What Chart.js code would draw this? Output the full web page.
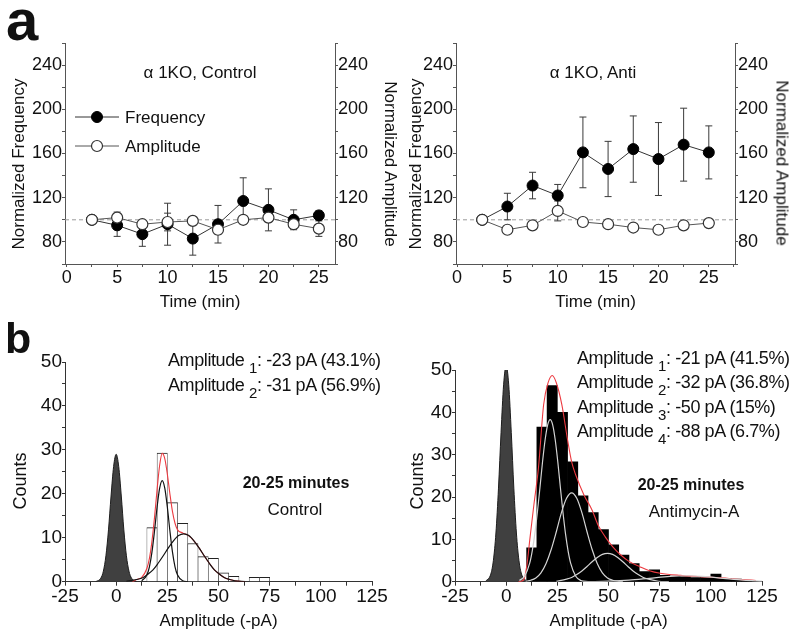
<!DOCTYPE html>
<html>
<head>
<meta charset="utf-8">
<title>a1KO frequency / amplitude</title>
<script src="https://cdn.jsdelivr.net/npm/chart.js@4.4.1/dist/chart.umd.min.js"></script>
<style>
  html, body { margin: 0; padding: 0; background: #fff; }
  #page { position: relative; width: 800px; height: 643px; overflow: hidden;
          font-family: Arial, "Liberation Sans", sans-serif; color: #111; }
  canvas { position: absolute; }
  .txt { position: absolute; white-space: nowrap; line-height: 1; }
  .mid { transform: translate(-50%, -50%); }
  .vmid { transform: translateY(-50%); }
  .up { transform: translate(-50%, -50%) rotate(-90deg); }
  .down { transform: translate(-50%, -50%) rotate(90deg); }
  .amp { font-size: 18px; letter-spacing: -0.4px; }
  .amp .s { font-size: 15px; position: relative; top: 7px; line-height: 0; }
</style>
</head>
<body>
<div id="page">
  <canvas id="aCtrl" width="400" height="320" style="left:0;top:0"></canvas>
  <canvas id="aAnti" width="400" height="320" style="left:400px;top:0"></canvas>
  <canvas id="bCtrl" width="400" height="323" style="left:0;top:320px"></canvas>
  <canvas id="bAnti" width="400" height="323" style="left:400px;top:320px"></canvas>

  <div class="txt" style="left:6px;top:-9px;font-weight:bold;font-size:58px">a</div>
  <div class="txt" style="left:5px;top:317px;font-weight:bold;font-size:43px">b</div>

  <div class="txt up" style="left:18px;top:164px;font-size:17px">Normalized Frequency</div>
  <div class="txt down" style="left:390px;top:164px;font-size:17px">Normalized Amplitude</div>
  <div class="txt up" style="left:415px;top:164px;font-size:17px">Normalized Frequency</div>
  <div class="txt down" style="left:782px;top:163px;font-size:17px">Normalized Amplitude</div>
  <div class="txt up" style="left:20px;top:481px;font-size:18px">Counts</div>
  <div class="txt up" style="left:417px;top:481px;font-size:18px">Counts</div>

  <div class="txt mid" style="left:200px;top:72px;font-size:17px">α 1KO, Control</div>
  <div class="txt mid" style="left:593px;top:72px;font-size:17px">α 1KO, Anti</div>
  <div class="txt vmid" style="left:125px;top:117px;font-size:17px">Frequency</div>
  <div class="txt vmid" style="left:125px;top:146px;font-size:17px">Amplitude</div>

  <div class="txt amp" style="left:168px;top:347.5px;line-height:25px">
    Amplitude <span class="s">1</span>: -23 pA (43.1%)<br>
    Amplitude <span class="s">2</span>: -31 pA (56.9%)
  </div>
  <div class="txt mid" style="left:296px;top:483px;font-size:16px;font-weight:bold">20-25 minutes</div>
  <div class="txt mid" style="left:295px;top:509px;font-size:17px">Control</div>

  <div class="txt amp" style="left:577px;top:345.7px;line-height:24.6px">
    Amplitude <span class="s">1</span>: -21 pA (41.5%)<br>
    Amplitude <span class="s">2</span>: -32 pA (36.8%)<br>
    Amplitude <span class="s">3</span>: -50 pA (15%)<br>
    Amplitude <span class="s">4</span>: -88 pA (6.7%)
  </div>
  <div class="txt mid" style="left:691px;top:485px;font-size:16px;font-weight:bold">20-25 minutes</div>
  <div class="txt mid" style="left:694px;top:511px;font-size:17px">Antimycin-A</div>
</div>

<script>
// ---- panel a: time course, values normalized to the first point ----
const timeMin     = [2.5, 5, 7.5, 10, 12.5, 15, 17.5, 20, 22.5, 25];
const ctrlFreq    = [100, 95, 87, 96, 83, 96, 117, 109, 100, 104];
const ctrlFreqErr = [0, 10, 11, 19, 15, 17, 21, 19, 9, 4];
const ctrlAmp     = [100, 102, 96, 98, 99, 91, 100, 102, 96, 92];
const ctrlAmpErr  = [0, 5, 3, 8, 3, 4, 3, 4, 4, 7];
const antiFreq    = [100, 112, 131, 122, 161, 146, 164, 155, 168, 161];
const antiFreqErr = [0, 12, 12, 10, 32, 25, 30, 33, 33, 24];
const antiAmp     = [100, 91, 95, 108, 98, 96, 93, 91, 95, 97];
const antiAmpErr  = [0, 3, 3, 9, 2, 2, 2, 2, 2, 3];
const baseline = 100;

// ---- panel b: amplitude histograms (5 pA bins, centres) ----
const ctrlBins   = [17.5, 22.5, 27.5, 32.5, 37.5, 42.5, 47.5, 52.5, 57.5, 62.5, 67.5, 72.5];
const ctrlCounts = [12.3, 29.3, 18, 13.3, 8.7, 5.7, 5.3, 2, 1.2, 0, 1, 1];
const antiBins   = [12.5, 17.5, 22.5, 27.5, 32.5, 37.5, 42.5, 47.5, 52.5, 57.5, 62.5,
                    67.5, 72.5, 77.5, 82.5, 87.5, 92.5, 97.5, 102.5, 107.5, 112.5, 117.5];
const antiCounts = [8, 36.5, 46.3, 40, 28.3, 20.3, 16.3, 12.3, 8.7, 6.3, 4.3,
                    2.4, 2.8, 1.5, 1.3, 1.2, 1.0, 1.0, 1.8, 0.8, 0.6, 0.3];

// noise peaks and fitted curves, [amplitude, counts]
const ctrlNoise = [[-10, 0], [-7.5, 0.8], [-6.25, 2.4], [-5, 5.9], [-3.75, 11.8], [-2.5, 19.5], [-1.25, 26.2],
  [0, 29], [1.25, 26.2], [2.5, 19.5], [3.75, 11.8], [5, 5.9], [6.25, 2.4], [7.5, 0.8], [10, 0]];
const ctrlFit1 = [[12.5, 0.2], [15, 1.5], [16.25, 3.4], [17.5, 6.8], [18.75, 11.6], [20, 17], [21.25, 21.3],
  [22.5, 23], [23.75, 21.3], [25, 17], [26.25, 11.6], [27.5, 6.8], [28.75, 3.4], [30, 1.5], [32.5, 0.2], [35, 0]];
const ctrlFit2 = [[5, 0.1], [10, 0.5], [13, 0.9], [15.5, 1.7], [18, 2.7], [20.5, 4.2], [23, 5.9], [25.5, 7.7],
  [28, 9.3], [30.5, 10.5], [33, 10.9], [35.5, 10.5], [38, 9.3], [40.5, 7.7], [43, 5.9], [45.5, 4.2],
  [48, 2.7], [50.5, 1.7], [53, 0.9], [55.5, 0.5], [58, 0.2], [63, 0]];
const ctrlFitSum = [[8, 0], [10, 0.5], [12.5, 1.0], [15, 3.0], [16.25, 5.3], [17.5, 9.3], [18.75, 14.7],
  [20, 21], [21.25, 26.5], [22.5, 29.2], [23.75, 28], [25, 24.5], [26.25, 20], [27.5, 16], [28.75, 13.3],
  [30, 11.8], [32.5, 11.1], [35, 10.6], [38, 9.3], [40.5, 7.7], [43, 5.9], [45.5, 4.2], [48, 2.7],
  [50.5, 1.7], [53, 0.9], [55.5, 0.5], [58, 0.2], [63, 0]];

const antiNoise = [[-10, 0.1], [-7.5, 1.8], [-6.25, 5], [-5, 11.5], [-3.75, 22.1], [-2.5, 35.2], [-1.25, 46.5],
  [0, 51], [1.25, 46.5], [2.5, 35.2], [3.75, 22.1], [5, 11.5], [6.25, 5], [7.5, 1.8], [10, 0.1]];
const antiFit1 = [[6.5, 0.3], [9, 1.3], [11.5, 4.4], [12.75, 7.3], [14, 11.3], [15.25, 16.4], [16.5, 22.2],
  [17.75, 28.2], [19, 33.4], [20.25, 37], [21.5, 38.3], [22.75, 37], [24, 33.4], [25.25, 28.2], [26.5, 22.2],
  [27.75, 16.4], [29, 11.3], [30.25, 7.3], [31.5, 4.4], [34, 1.3], [36.5, 0.3], [40, 0]];
const antiFit2 = [[9.5, 0.1], [12, 0.35], [14.5, 0.9], [17, 2.1], [19.5, 4.3], [22, 7.6], [24.5, 11.8],
  [27, 16.3], [29.5, 19.7], [32, 21], [34.5, 19.7], [37, 16.3], [39.5, 11.8], [42, 7.6], [44.5, 4.3],
  [47, 2.1], [49.5, 0.9], [52, 0.35], [54.5, 0.1], [57, 0]];
const antiFit3 = [[24.5, 0.1], [29.5, 0.6], [32, 1.0], [34.5, 1.7], [37, 2.55], [39.5, 3.6], [42, 4.7],
  [44.5, 5.7], [47, 6.45], [49.5, 6.7], [52, 6.45], [54.5, 5.7], [57, 4.7], [59.5, 3.6], [62, 2.55],
  [64.5, 1.7], [67, 1.0], [69.5, 0.6], [74.5, 0.1], [79.5, 0]];
const antiFit4 = [[40, 0], [50, 0.12], [60, 0.36], [70, 0.8], [80, 1.25], [88, 1.4], [96, 1.25],
  [106, 0.8], [116, 0.36], [125, 0.12]];
const antiFitSum = [[6, 0], [8.5, 0.4], [10, 3.5], [11.7, 10.6], [13.5, 18], [15.8, 27], [18.3, 41.8],
  [20.5, 47], [22.5, 48.7], [24.5, 47], [27.2, 41.8], [30, 33.5], [32, 28.3], [34, 25.2], [38, 20.5],
  [42, 16.9], [45, 13.3], [48.4, 10.6], [52, 8.3], [56, 6.3], [60, 4.8], [65.5, 3.5], [70, 2.6],
  [75.3, 2.0], [85, 1.5], [95, 1.2], [105, 0.9], [115, 0.5], [122, 0.3]];

const ink = '#111';
const axisA = '#555';
const axisB = '#333';
Chart.defaults.font.family = 'Arial, "Liberation Sans", sans-serif';
Chart.defaults.color = ink;

const pts = (xs, ys) => xs.map((x, i) => ({x, y: ys[i]}));

// vertical error bars with caps, behind the markers
const errorBars = {
  id: 'errorBars',
  beforeDatasetsDraw(chart) {
    const ctx = chart.ctx;
    chart.data.datasets.forEach((ds, i) => {
      if (!ds.errors) return;
      const meta = chart.getDatasetMeta(i);
      const ys = chart.scales[meta.yAxisID];
      ctx.save();
      ctx.strokeStyle = '#3a3a3a';
      ctx.lineWidth = 1;
      meta.data.forEach((pt, j) => {
        const e = ds.errors[j];
        if (!e) return;
        const v = ds.data[j].y;
        const top = ys.getPixelForValue(v + e);
        const bot = ys.getPixelForValue(v - e);
        ctx.beginPath();
        ctx.moveTo(pt.x, top); ctx.lineTo(pt.x, bot);
        ctx.moveTo(pt.x - 3.5, top); ctx.lineTo(pt.x + 3.5, top);
        ctx.moveTo(pt.x - 3.5, bot); ctx.lineTo(pt.x + 3.5, bot);
        ctx.stroke();
      });
      ctx.restore();
    });
  }
};

// dashed reference at 100 %
const refLine = {
  id: 'refLine',
  beforeDatasetsDraw(chart) {
    const {ctx, chartArea: a} = chart;
    const py = chart.scales.y.getPixelForValue(baseline);
    ctx.save();
    ctx.setLineDash([4, 3]);
    ctx.strokeStyle = '#9a9a9a';
    ctx.lineWidth = 1;
    ctx.beginPath();
    ctx.moveTo(a.left, py); ctx.lineTo(a.right, py);
    ctx.stroke();
    ctx.restore();
  }
};

// line+marker samples for the legend in the left time-course plot
const legendMarks = {
  id: 'legendMarks',
  afterDraw(chart) {
    const ctx = chart.ctx;
    [[117, 0], [146, 1]].forEach(([y, i]) => {
      const ds = chart.data.datasets[i];
      ctx.save();
      ctx.strokeStyle = ds.borderColor;
      ctx.lineWidth = 1;
      ctx.beginPath(); ctx.moveTo(75, y); ctx.lineTo(119, y); ctx.stroke();
      ctx.beginPath(); ctx.arc(97, y, 5.5, 0, Math.PI * 2);
      ctx.fillStyle = ds.pointBackgroundColor; ctx.fill();
      ctx.lineWidth = ds.pointBorderWidth;
      ctx.strokeStyle = ds.pointBorderColor; ctx.stroke();
      ctx.restore();
    });
  }
};

function timeCourse(id, freq, freqErr, amp, ampErr, o) {
  const yAxis = (pos, width) => ({
    type: 'linear', position: pos, min: 60, max: 260,
    afterFit: s => { s.width = width; },
    border: {color: axisA},
    grid: {drawOnChartArea: false, tickLength: 3, color: axisA},
    ticks: {stepSize: 20, padding: 0, autoSkip: false, color: ink, font: {size: 18},
            callback: v => (v % 40 === 0 ? v : '')}
  });
  return new Chart(document.getElementById(id), {
    type: 'line',
    data: {
      datasets: [
        {label: 'Frequency', data: pts(timeMin, freq), errors: freqErr, yAxisID: 'y',
         borderColor: '#333', borderWidth: 1, pointRadius: 5.5, pointBackgroundColor: '#000',
         pointBorderColor: '#000', pointBorderWidth: 1, order: 1},
        {label: 'Amplitude', data: pts(timeMin, amp), errors: ampErr, yAxisID: 'y2',
         borderColor: '#555', borderWidth: 1, pointRadius: 5.5, pointBackgroundColor: '#fff',
         pointBorderColor: '#333', pointBorderWidth: 1.2, order: 0}
      ]
    },
    options: {
      responsive: false, animation: false, devicePixelRatio: 1,
      layout: {padding: {top: 43, left: 0, right: 0, bottom: 0}},
      plugins: {legend: {display: false}, tooltip: {enabled: false}},
      scales: {
        x: {
          type: 'linear', min: o.xMin, max: o.xMax,
          afterFit: s => { s.height = 56; },
          border: {color: axisA},
          grid: {drawOnChartArea: false, tickLength: 3, color: axisA},
          ticks: {stepSize: 2.5, includeBounds: false, autoSkip: false, maxRotation: 0, padding: 0,
                  color: ink, font: {size: 18}, callback: v => (v % 5 === 0 ? v : '')},
          title: {display: true, text: 'Time (min)', color: ink, font: {size: 17}, padding: {top: 0, bottom: 7}}
        },
        y: yAxis('left', o.leftW),
        y2: yAxis('right', 65)
      }
    },
    plugins: o.legend ? [refLine, errorBars, legendMarks] : [refLine, errorBars]
  });
}

function histogram(id, bins, counts, noise, fits, sum, o) {
  const curve = (data, color, width, order) => ({
    type: 'line', data, borderColor: color, borderWidth: width, pointRadius: 0,
    fill: false, cubicInterpolationMode: 'monotone', order
  });
  return new Chart(document.getElementById(id), {
    type: 'bar',
    data: {
      datasets: [
        ...fits.map(f => curve(f, o.fitColor, 1.2, 0)),
        curve(sum, '#ec3a40', 1.1, 1),
        {type: 'line', data: noise, fill: 'origin', backgroundColor: '#404040', borderColor: '#1e1e1e',
         borderWidth: 1, pointRadius: 0, cubicInterpolationMode: 'monotone', order: 3},
        {type: 'bar', data: pts(bins, counts), backgroundColor: o.barFill, borderColor: o.barEdge,
         borderWidth: o.barBorder, barPercentage: 1, categoryPercentage: 1, order: 5}
      ]
    },
    options: {
      responsive: false, animation: false, devicePixelRatio: 1,
      layout: {padding: {top: o.top, left: 0, right: o.right, bottom: 0}},
      plugins: {legend: {display: false}, tooltip: {enabled: false}},
      scales: {
        x: {
          type: 'linear', min: -25, max: 125, offset: false,
          afterFit: s => { s.height = 61.3; },
          border: {color: axisB},
          grid: {drawOnChartArea: false, offset: false, tickLength: 4, color: axisB},
          ticks: {stepSize: 12.5, autoSkip: false, maxRotation: 0, padding: 0, color: ink,
                  font: {size: 19}, callback: v => (v % 25 === 0 ? v : '')},
          title: {display: true, text: 'Amplitude (-pA)', color: ink, font: {size: 17}, padding: {top: 0, bottom: 11}}
        },
        y: {
          type: 'linear', min: 0, max: 50,
          afterFit: s => { s.width = o.leftW; },
          border: {color: axisB},
          grid: {drawOnChartArea: false, tickLength: 3, color: axisB},
          ticks: {stepSize: 5, autoSkip: false, padding: 0, color: ink, font: {size: 19},
                  callback: v => (v % 10 === 0 ? v : '')}
        }
      }
    }
  });
}

timeCourse('aCtrl', ctrlFreq, ctrlFreqErr, ctrlAmp, ctrlAmpErr,
  {xMin: -0.17, xMax: 26.6, leftW: 65, legend: true});
timeCourse('aAnti', antiFreq, antiFreqErr, antiAmp, antiAmpErr,
  {xMin: -0.1, xMax: 27.6, leftW: 56, legend: false});

histogram('bCtrl', ctrlBins, ctrlCounts, ctrlNoise, [ctrlFit1, ctrlFit2], ctrlFitSum,
  {fitColor: '#111', barFill: '#fff', barEdge: '#222', barBorder: {top: 1, left: 0.6, right: 0.6, bottom: 0},
   leftW: 65, right: 28, top: 42});
histogram('bAnti', antiBins, antiCounts, antiNoise, [antiFit1, antiFit2, antiFit3, antiFit4], antiFitSum,
  {fitColor: '#d4d4d4', barFill: '#000', barEdge: '#000', barBorder: 0,
   leftW: 55, right: 38, top: 50});
</script>
</body>
</html>
